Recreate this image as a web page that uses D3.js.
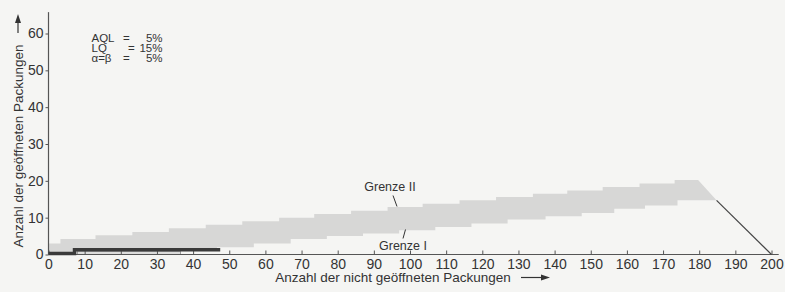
<!DOCTYPE html>
<html>
<head>
  <meta charset="utf-8">
  <title>Sequential sampling chart</title>
  <style>
    body { margin: 0; background: #f5f5f3; }
    svg { display: block; font-family: "Liberation Sans", Arial, sans-serif; }
    .tick text { fill: #333; font-size: 14px; }
    .axis path, .axis line { stroke: #555; }
  </style>
</head>
<body>
  <svg width="785" height="292"></svg>
  <script src="https://d3js.org/d3.v7.min.js"></script>
  <script>
    // tick labels
    const xTicks = [0, 10, 20, 30, 40, 50, 60, 70, 80, 90, 100, 110, 120, 130, 140, 150, 160, 170, 180, 190, 200];
    const yTicks = [0, 10, 20, 30, 40, 50, 60];

    // Grenze II (upper staircase): step start and level
    const upperX = [0, 3.3, 13, 23.2, 33.3, 43.5, 53.6, 63.8, 73.5, 83.7, 93.8, 103.5, 113.7, 123.8, 134, 143.5, 153.3, 163.5, 173.2];
    const upperY = [3, 4.2, 5.2, 6.1, 7.1, 8.1, 9.0, 10.0, 11.0, 11.9, 12.9, 13.8, 14.7, 15.6, 16.5, 17.4, 18.3, 19.3, 20.2];
    const upperEnd = 179.7;

    // Grenze I (lower staircase)
    const lowerX = [0, 36.5, 46.6, 56.8, 67, 77, 87, 97, 107, 117, 127, 137.5, 147.5, 156.5, 165, 174];
    const lowerY = [0, 1, 2, 3, 4.2, 5, 5.7, 6.6, 7.5, 8.4, 9.5, 10.4, 11.3, 12.4, 13.3, 14.7];
    const lowerEnd = 184.8;

    // dark path near the axis and the closing line
    const pathX = [0, 7.2, 7.2, 47.5];
    const pathY = [0.3, 0.3, 1.3, 1.3];
    const truncX = [184.8, 200];
    const truncY = [14.7, 0];

    const svg = d3.select("svg");

    const x = d3.scaleLinear().domain([0, 200]).range([48.5, 771.5]);
    const y = d3.scaleLinear().domain([0, 60]).range([254.5, 33.5]);

    // band between the two limits
    const band = [];
    upperX.forEach((v, i) => {
      const next = i < upperX.length - 1 ? upperX[i + 1] : upperEnd;
      band.push([v, upperY[i]], [next, upperY[i]]);
    });
    for (let i = lowerX.length - 1; i >= 0; i--) {
      const next = i < lowerX.length - 1 ? lowerX[i + 1] : lowerEnd;
      band.push([next, lowerY[i]], [lowerX[i], lowerY[i]]);
    }
    const line = d3.line().x(d => x(d[0])).y(d => y(d[1]));
    svg.append("path")
      .attr("d", line(band) + "Z")
      .attr("fill", "#d7d7d6");

    // light box under the dark path
    svg.append("rect")
      .attr("x", x(8)).attr("y", y(0.9))
      .attr("width", x(36.5) - x(8)).attr("height", y(0) - y(0.9))
      .attr("fill", "#dcdcdb").attr("stroke", "#8a8a8a").attr("stroke-width", 0.8);

    // x axis
    const xAxis = d3.axisBottom(x).tickValues(xTicks).tickSize(0).tickPadding(5);
    const gx = svg.append("g").attr("class", "axis")
      .attr("transform", `translate(0,${y(0)})`)
      .call(xAxis);
    gx.select(".domain").remove();
    gx.selectAll(".tick").append("line")
      .attr("y1", 0).attr("y2", -4).attr("stroke", "#555");
    svg.append("line")
      .attr("x1", x(0)).attr("x2", x(202))
      .attr("y1", y(0)).attr("y2", y(0))
      .attr("stroke", "#555").attr("stroke-width", 1.2);

    // y axis
    const yAxis = d3.axisLeft(y).tickValues(yTicks).tickSize(3).tickPadding(2);
    const gy = svg.append("g").attr("class", "axis")
      .attr("transform", `translate(${x(0)},0)`)
      .call(yAxis);
    gy.select(".domain").remove();
    svg.append("line")
      .attr("x1", x(0)).attr("x2", x(0))
      .attr("y1", y(0)).attr("y2", y(65.8))
      .attr("stroke", "#555").attr("stroke-width", 1.2);

    // dark sample path
    svg.append("path")
      .attr("d", line(pathX.map((v, i) => [v, pathY[i]])))
      .attr("fill", "none").attr("stroke", "#3a3a3a").attr("stroke-width", 3.5);

    // closing line
    svg.append("path")
      .attr("d", line(truncX.map((v, i) => [v, truncY[i]])))
      .attr("fill", "none").attr("stroke", "#444").attr("stroke-width", 1.2);

    // parameters
    const params = [["AQL", "=", "5%"], ["LQ", "=", "15%"], ["\u03b1=\u03b2", "=", "5%"]];
    const eqX = [123, 128, 123];
    params.forEach((p, i) => {
      const yy = 42 + i * 10;
      const g = svg.append("g").style("font-size", "11.5px").attr("fill", "#333");
      g.append("text").attr("x", 91.5).attr("y", yy).text(p[0]);
      g.append("text").attr("x", eqX[i]).attr("y", yy).text(p[1]);
      g.append("text").attr("x", 162.5).attr("y", yy).attr("text-anchor", "end").text(p[2]);
    });

    // limit labels
    svg.append("text").attr("x", 390).attr("y", 191)
      .attr("text-anchor", "middle").style("font-size", "12.5px").attr("fill", "#333")
      .text("Grenze II");
    svg.append("line").attr("x1", 393).attr("y1", 195.5).attr("x2", 397).attr("y2", 206.5)
      .attr("stroke", "#333");
    svg.append("text").attr("x", 403).attr("y", 250)
      .attr("text-anchor", "middle").style("font-size", "12.5px").attr("fill", "#333")
      .text("Grenze I");
    svg.append("line").attr("x1", 405.5).attr("y1", 229.5).attr("x2", 403).attr("y2", 238.5)
      .attr("stroke", "#333");

    // axis titles with arrows
    svg.append("text").attr("x", 393).attr("y", 282)
      .attr("text-anchor", "middle").style("font-size", "13.5px").attr("fill", "#333")
      .text("Anzahl der nicht geöffneten Packungen");
    svg.append("line").attr("x1", 521).attr("x2", 544).attr("y1", 277.5).attr("y2", 277.5)
      .attr("stroke", "#333").attr("stroke-width", 1.2);
    svg.append("path").attr("d", "M541,274.5 L550,277.5 L541,280.5 Z").attr("fill", "#333");

    svg.append("text")
      .attr("transform", "translate(22.5,146) rotate(-90)")
      .attr("text-anchor", "middle").style("font-size", "13.5px").attr("fill", "#333")
      .text("Anzahl der geöffneten Packungen");
    svg.append("line").attr("x1", 18).attr("x2", 18).attr("y1", 33).attr("y2", 20)
      .attr("stroke", "#333").attr("stroke-width", 1.2);
    svg.append("path").attr("d", "M15,23 L18,14 L21,23 Z").attr("fill", "#333");
  </script>
</body>
</html>
